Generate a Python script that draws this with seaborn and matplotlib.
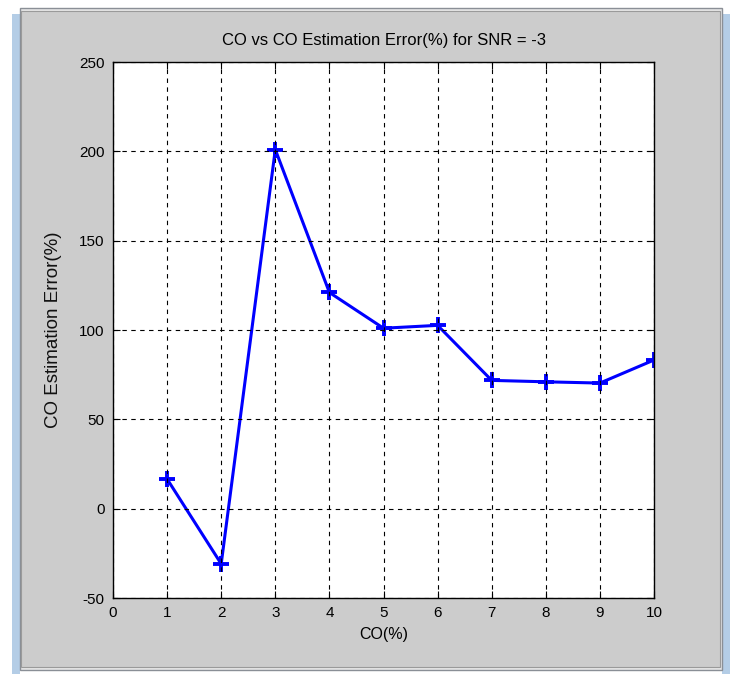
import matplotlib
matplotlib.use("Agg")
import matplotlib.pyplot as plt
from matplotlib import font_manager
from matplotlib.patches import Rectangle
import seaborn as sns
import pandas as pd

# values
co_pct = [1, 2, 3, 4, 5, 6, 7, 8, 9, 10]
est_error = [16.6, -30.9, 201, 121, 101, 102.6, 71.8, 71, 70.3, 83.2]
x_ticks = list(range(0, 11))
y_ticks = [-50, 0, 50, 100, 150, 200, 250]

df = pd.DataFrame({"co": co_pct, "err": est_error})

sns.set_style("ticks")

# the reference text is a squeezed Arial; use the narrow cut if it is there
names = {f.name for f in font_manager.fontManager.ttflist}
if "Liberation Sans Narrow" in names:
    face = ["Liberation Sans Narrow", "DejaVu Sans"]
    tick_fs, title_fs, xlab_fs = 12, 14, 13.5
else:
    face = ["Liberation Sans", "DejaVu Sans"]
    tick_fs, title_fs, xlab_fs = 11, 12, 11.5
plt.rcParams["font.family"] = face
plt.rcParams["text.color"] = "black"

fig = plt.figure(figsize=(7.33, 6.74), dpi=100, facecolor="white")

# window frame look (MATLAB figure on a desktop)
W, H = 733, 674
def px_rect(x0, y0, x1, y1, **kw):
    fig.patches.append(Rectangle((x0 / W, 1 - y1 / H), (x1 - x0) / W, (y1 - y0) / H,
                                 transform=fig.transFigure, figure=fig, zorder=-10, **kw))

px_rect(12, 14, 20, 674, facecolor="#b4cde6", edgecolor="none")
px_rect(722, 14, 730, 674, facecolor="#b4cde6", edgecolor="none")
px_rect(20, 8, 722, 670, facecolor="#e6e6e6", edgecolor="#8a8f96", linewidth=1)
px_rect(21, 11, 720, 667, facecolor="#cccccc", edgecolor="#9a9a9a", linewidth=0.8)

ax = fig.add_axes([113 / W, 1 - 598 / H, (654 - 113) / W, (598 - 62) / H])
ax.set_facecolor("white")

sns.lineplot(data=df, x="co", y="err", ax=ax, color="#0000ff", linewidth=2.2,
             marker="+", markersize=11, markeredgewidth=2.8,
             markeredgecolor="#0000ff", estimator=None)

ax.set_xlim(0, 10)
ax.set_ylim(-50, 250)
ax.set_xticks(x_ticks)
ax.set_yticks(y_ticks)
ax.set_xticklabels([str(t) for t in x_ticks])
ax.set_yticklabels([str(t) for t in y_ticks])

ax.grid(True, color="black", linestyle=(0, (4, 4)), linewidth=0.8)
ax.set_axisbelow(False)
for s in ax.spines.values():
    s.set_visible(True)
    s.set_color("black")
    s.set_linewidth(1.0)
ax.tick_params(direction="in", length=5, width=0.8, top=True, right=True,
               labelsize=tick_fs, colors="black", pad=6)

ax.set_title("CO vs CO Estimation Error(%) for SNR = -3", fontsize=title_fs,
             pad=12, color="black")
ax.set_xlabel("CO(%)", fontsize=xlab_fs, labelpad=5, color="black")
ax.set_ylabel("CO Estimation Error(%)", fontsize=13.5, color="#111111",
              family=["Liberation Sans", "DejaVu Sans"], labelpad=12)

fig.savefig("out.png", dpi=100, facecolor=fig.get_facecolor())
